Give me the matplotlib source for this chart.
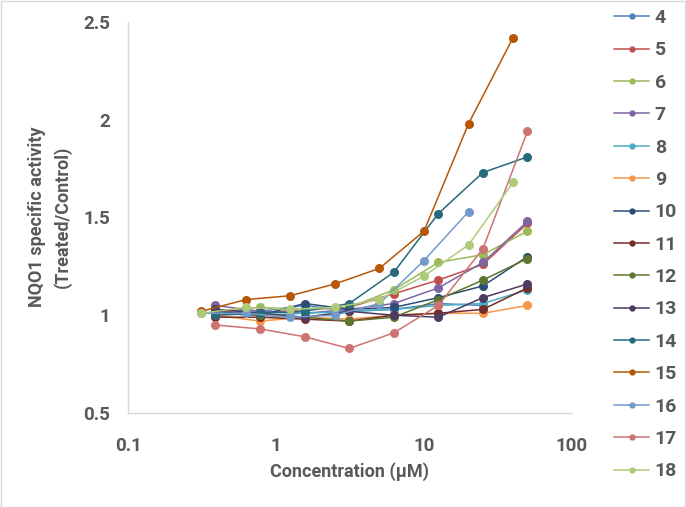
import matplotlib
matplotlib.use("Agg")
import matplotlib.pyplot as plt
from matplotlib.patches import Rectangle

plt.rcParams.update({"font.family": ["Roboto", "DejaVu Sans"], "font.weight": "bold"})

grey_text = "#595959"
grey_line = "#D9D9D9"

# two dilution series used in the assay (uM)
conc_a = [0.39, 0.78, 1.56, 3.125, 6.25, 12.5, 25, 50]
conc_b = [0.3125, 0.625, 1.25, 2.5, 5, 10, 20, 40]

labels = ["4", "5", "6", "7", "8", "9", "10", "11", "12",
          "13", "14", "15", "16", "17", "18"]

s4 = [1.03, 1.02, 1.05, 1.02, 1.03, 1.06, 1.05]
s5 = [1.02, 1.01, 1.03, 1.04, 1.11, 1.18, 1.26, 1.47]
s6 = [1.02, 1.04, 1.03, 1.04, 1.13, 1.27, 1.31, 1.43]
s7 = [1.05, 1.02, 1.01, 1.03, 1.06, 1.14, 1.27, 1.48]
s8 = [1.01, 1.00, 1.01, 1.02, 1.03, 1.05, 1.06, 1.13]
s9 = [1.00, 0.97, 0.99, 0.98, 1.00, 1.01, 1.01, 1.05]
s10 = [1.02, 1.00, 1.06, 1.03, 1.04, 1.09, 1.15, 1.30]
s11 = [0.99, 0.99, 0.98, 0.97, 1.00, 1.01, 1.03, 1.14]
s12 = [1.01, 1.00, 0.99, 0.97, 0.99, 1.08, 1.18, 1.29]
s13 = [1.03, 1.01, 0.99, 1.02, 1.00, 0.99, 1.09, 1.16]
s14 = [1.00, 1.01, 1.02, 1.06, 1.22, 1.52, 1.73, 1.81]
s15 = [1.02, 1.08, 1.10, 1.16, 1.24, 1.43, 1.98, 2.42]
s16 = [1.01, 1.01, 0.99, 1.00, 1.06, 1.28, 1.53]
s17 = [0.95, 0.93, 0.89, 0.83, 0.91, 1.05, 1.34, 1.94]
s18 = [1.01, 1.04, 1.03, 1.04, 1.08, 1.20, 1.36, 1.68]

series = [s4, s5, s6, s7, s8, s9, s10, s11, s12, s13, s14, s15, s16, s17, s18]
xsets = [conc_a] * 11 + [conc_b, conc_b, conc_a, conc_b]

colors = ["#4F81BD", "#C0504D", "#9BBB59", "#8064A2", "#4BACC6", "#F79646",
          "#2C4D75", "#772C2A", "#5F7530", "#4D3B62", "#276A7C", "#B65708",
          "#729ACA", "#CD7371", "#AFC97A"]

fig = plt.figure(figsize=(6.86, 5.07), dpi=100)
ax = fig.add_axes([128 / 686, 94 / 507, 444 / 686, 391 / 507])

handles = []
for xs, ys, c, lab in zip(xsets, series, colors, labels):
    h, = ax.plot(xs[:len(ys)], ys, color=c, lw=1.1, marker="o",
                 markersize=6.5, markeredgewidth=0, label=lab)
    handles.append(h)

ax.set_xscale("log")
ax.set_xlim(0.1, 100)
ax.set_ylim(0.5, 2.5)
ax.set_xticks([0.1, 1, 10, 100])
ax.set_xticklabels(["0.1", "1", "10", "100"])
ax.set_yticks([0.5, 1, 1.5, 2, 2.5])
ax.set_yticklabels(["0.5", "1", "1.5", "2", "2.5"])
ax.minorticks_off()
ax.tick_params(length=0, labelsize=13.5, labelcolor=grey_text)
ax.tick_params(axis="x", pad=17)
ax.tick_params(axis="y", pad=13)
for side in ["top", "right"]:
    ax.spines[side].set_visible(False)
for side in ["left", "bottom"]:
    ax.spines[side].set_color(grey_line)
    ax.spines[side].set_linewidth(1)

fig.text(350 / 686, 1 - 472 / 507, "Concentration (μM)", ha="center",
         va="center", fontsize=13, color=grey_text, fontweight="bold")
fig.text(50 / 686, 1 - 217 / 507, "NQO1 specific activity\n(Treated/Control)",
         ha="center", va="center", rotation=90, fontsize=13,
         color=grey_text, fontweight="bold", linespacing=1.5)

leg = fig.legend(handles, labels, loc="upper left",
                 bbox_to_anchor=(614 / 686, 1 - 9 / 507), frameon=False,
                 handlelength=1.8, handletextpad=0.3, labelspacing=0.74,
                 borderpad=0, borderaxespad=0, markerscale=0.7,
                 fontsize=14)
for t in leg.get_texts():
    t.set_color(grey_text)

fig.patches.append(Rectangle((0.5 / 686, 0.5 / 507), 684.5 / 686, 505.5 / 507,
                             transform=fig.transFigure, fill=False,
                             edgecolor=grey_line, lw=1))

plt.savefig("out.png", dpi=100)
